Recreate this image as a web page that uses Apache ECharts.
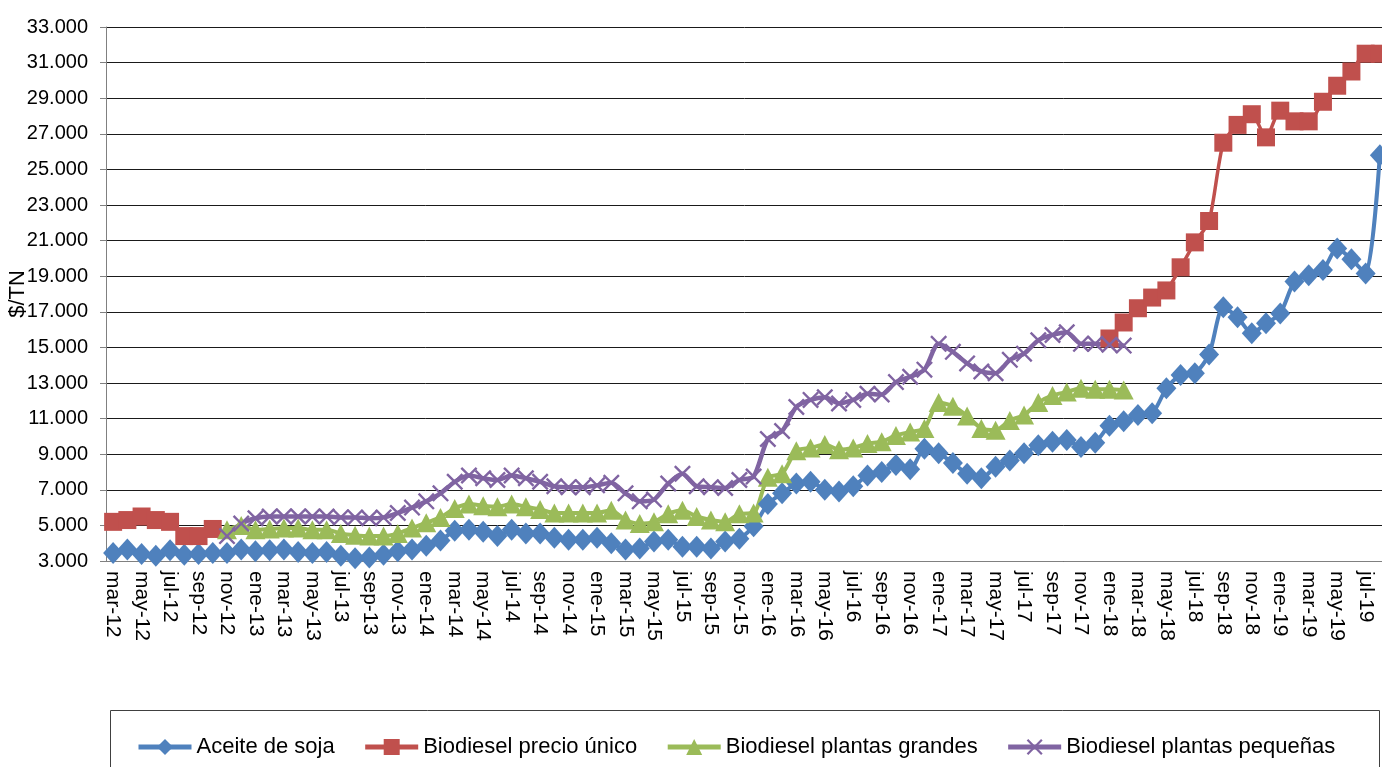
<!DOCTYPE html>
<html>
<head>
<meta charset="utf-8">
<script src="https://cdn.jsdelivr.net/npm/echarts@6/dist/echarts.min.js"></script>
<style>
  html, body { margin: 0; padding: 0; background: #fff; }
  #chart { width: 1382px; height: 767px; }
</style>
</head>
<body>
<div id="chart"></div>
<script>
// etiquetas de meses (mar-12 .. ago-19)
var meses = ["ene", "feb", "mar", "abr", "may", "jun", "jul", "ago", "sep", "oct", "nov", "dic"];
var categorias = [];
for (var a = 12; a <= 19; a++) {
  for (var m = 0; m < 12; m++) {
    if (a === 12 && m < 2) continue;
    if (a === 19 && m > 7) continue;
    categorias.push(meses[m] + "-" + a);
  }
}

var aceiteSoja = [
  3450, 3650, 3400, 3300, 3600, 3350, 3400, 3450, 3450, 3650,
  3550, 3600, 3650, 3500, 3450, 3500, 3300, 3150, 3200, 3350,
  3550, 3650, 3850, 4150, 4700, 4750, 4650, 4400, 4750, 4550,
  4550, 4300, 4200, 4200, 4300, 4000, 3650, 3700, 4100, 4200,
  3800, 3800, 3700, 4100, 4250, 4950, 6200, 6800, 7350, 7450,
  7000, 6900, 7200, 7800, 8000, 8400, 8150, 9300, 9050, 8500,
  7900, 7650, 8300, 8650, 9050, 9500, 9700, 9800, 9400, 9650,
  10600, 10850, 11200, 11300, 12700, 13450, 13550, 14600, 17250, 16700,
  15800, 16350, 16900, 18700, 19050, 19350, 20550, 19950, 19150, 25800
];

var precioUnico = [
  5200, 5300, 5500, 5300, 5200, 4400, 4400, 4800, null, null,
  null, null, null, null, null, null, null, null, null, null,
  null, null, null, null, null, null, null, null, null, null,
  null, null, null, null, null, null, null, null, null, null,
  null, null, null, null, null, null, null, null, null, null,
  null, null, null, null, null, null, null, null, null, null,
  null, null, null, null, null, null, null, null, null, null,
  15500, 16400, 17200, 17800, 18200, 19500, 20900, 22100, 26500, 27500,
  28100, 26800, 28300, 27700, 27700, 28800, 29700, 30500, 31500, 31500
];

var plantasGrandes = [
  null, null, null, null, null, null, null, null, 4750, 5000,
  4750, 4800, 4850, 4850, 4750, 4750, 4550, 4450, 4400, 4400,
  4550, 4850, 5150, 5450, 5950, 6200, 6100, 6050, 6200, 6050,
  5900, 5700, 5700, 5700, 5700, 5850, 5300, 5100, 5200, 5650,
  5850, 5500, 5300, 5200, 5650, 5700, 7700, 7900, 9200, 9350,
  9550, 9250, 9350, 9600, 9700, 10050, 10250, 10450, 11900, 11700,
  11150, 10450, 10350, 10900, 11200, 11900, 12300, 12500, 12700, 12650,
  12650, 12600, null, null, null, null, null, null, null, null,
  null, null, null, null, null, null, null, null, null, null
];

var plantasPequenas = [
  null, null, null, null, null, null, null, null, 4400, 5100,
  5400, 5500, 5500, 5500, 5500, 5500, 5450, 5450, 5400, 5450,
  5700, 6000, 6350, 6800, 7450, 7800, 7650, 7550, 7800, 7650,
  7450, 7200, 7150, 7150, 7250, 7400, 6800, 6350, 6450, 7350,
  7900, 7200, 7150, 7100, 7550, 7750, 9850, 10300, 11650, 12050,
  12200, 11850, 12050, 12400, 12350, 13050, 13350, 13750, 15200, 14750,
  14100, 13650, 13550, 14300, 14650, 15400, 15700, 15850, 15200, 15200,
  15150, 15100, null, null, null, null, null, null, null, null,
  null, null, null, null, null, null, null, null, null, null
];

var fuente = "'Liberation Sans', Arial, sans-serif";
// simbolo X relleno
var simboloX = "path://M0,1 L1,0 L5,4 L9,0 L10,1 L6,5 L10,9 L9,10 L5,6 L1,10 L0,9 L4,5 Z";

function miles(v) {
  return String(v).replace(/\B(?=(\d{3})+(?!\d))/g, ".");
}

function serie(nombre, datos, color, simbolo, tam, ancho) {
  return {
    name: nombre,
    type: "line",
    data: datos,
    smooth: 0.25,
    symbol: simbolo,
    symbolSize: tam,
    showAllSymbol: true,
    connectNulls: false,
    lineStyle: { color: color, width: ancho },
    itemStyle: { color: color },
    emphasis: { disabled: true }
  };
}

var chart = echarts.init(document.getElementById("chart"));
chart.setOption({
  animation: false,
  textStyle: { fontFamily: fuente },
  grid: { left: 106, top: 27, width: 1281, height: 534, containLabel: false, outerBoundsMode: "none" },
  graphic: [
    {
      type: "rect",
      shape: { x: 110.5, y: 710.5, width: 1269, height: 80 },
      style: { fill: "none", stroke: "#404040", lineWidth: 1 }
    }
  ],
  legend: {
    left: 131,
    top: 731,
    itemWidth: 53,
    itemHeight: 20,
    itemGap: 28,
    lineStyle: { width: 5 },
    textStyle: { fontFamily: fuente, fontSize: 22, color: "#000" },
    data: ["Aceite de soja", "Biodiesel precio único", "Biodiesel plantas grandes", "Biodiesel plantas pequeñas"]
  },
  xAxis: {
    type: "category",
    data: categorias,
    boundaryGap: true,
    axisLine: { lineStyle: { color: "#808080", width: 1 } },
    axisTick: { interval: 1, length: 6, lineStyle: { color: "#808080" } },
    axisLabel: {
      interval: 1,
      rotate: -90,
      margin: 10,
      fontFamily: fuente,
      fontSize: 21,
      color: "#000"
    },
    splitLine: { show: false }
  },
  yAxis: {
    type: "value",
    min: 3000,
    max: 33000,
    interval: 2000,
    name: "$/TN",
    nameLocation: "middle",
    nameGap: 77,
    nameMoveOverlap: false,
    nameTextStyle: { fontFamily: fuente, fontSize: 22, color: "#000" },
    axisLine: { show: true, lineStyle: { color: "#808080", width: 1 } },
    axisTick: { show: true, length: 6, lineStyle: { color: "#808080" } },
    axisLabel: {
      margin: 18,
      fontFamily: fuente,
      fontSize: 20,
      color: "#000",
      formatter: miles
    },
    splitLine: { lineStyle: { color: "#1a1a1a", width: 1 } }
  },
  series: [
    serie("Aceite de soja", aceiteSoja, "#4F81BD", "diamond", [20, 22], 4),
    serie("Biodiesel precio único", precioUnico, "#C0504D", "rect", 18, 3.5),
    serie("Biodiesel plantas grandes", plantasGrandes, "#9BBB59", "triangle", [20, 19], 4),
    serie("Biodiesel plantas pequeñas", plantasPequenas, "#8064A2", simboloX, 17, 4.5)
  ]
});
</script>
</body>
</html>
